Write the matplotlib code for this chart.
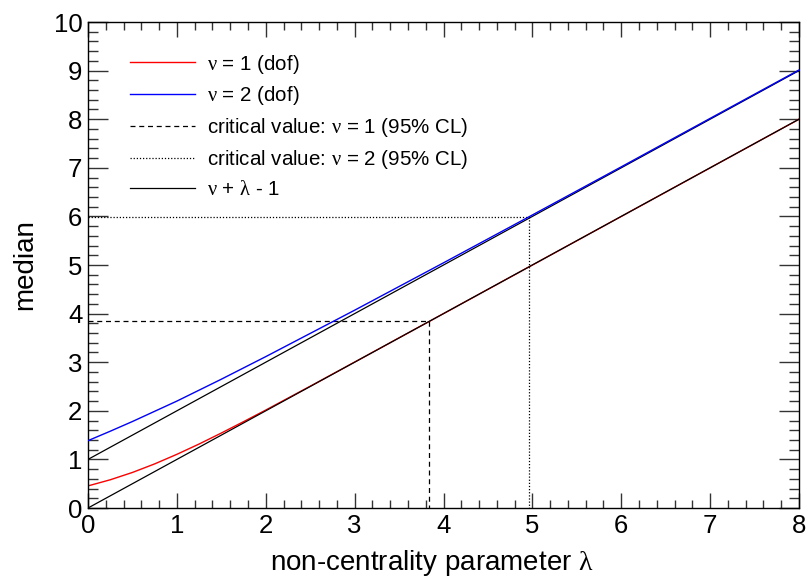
import matplotlib
matplotlib.use('Agg')
import matplotlib.pyplot as plt
from matplotlib.ticker import MultipleLocator

plt.rcParams['font.family'] = ['Liberation Sans', 'DejaVu Sans']
plt.rcParams['mathtext.fontset'] = 'custom'
plt.rcParams['mathtext.rm'] = 'Liberation Serif'
plt.rcParams['mathtext.it'] = 'Liberation Serif'

# median of the non-central chi2
lam_1 = [0, 0.25, 0.5, 0.75, 1.0, 1.25, 1.5, 1.75, 2.0, 2.5, 3.0, 4.0, 5.0, 6.0, 7.0, 8.0]
med_1 = [0.455, 0.581, 0.732, 0.908, 1.105, 1.317, 1.543, 1.777, 2.016, 2.506, 3.003, 4.0, 5.0, 6.0, 7.0, 8.0]
lam_2 = [0, 0.25, 0.5, 0.75, 1.0, 1.5, 2.0, 3.0, 4.0, 5.0, 6.0, 7.0, 8.0]
med_2 = [1.386, 1.58, 1.78, 1.99, 2.20, 2.65, 3.115, 4.07, 5.045, 6.03, 7.02, 8.017, 9.013]

# nu + lambda - 1
lam_line = [0, 8]
line_1 = [0, 8]
line_2 = [1, 9]

# 95% CL critical values and where the median reaches them
crit_1, lam_crit_1 = 3.841, 3.84
crit_2, lam_crit_2 = 5.991, 4.965

fig = plt.figure(figsize=(8.06, 5.78), dpi=100)
ax = fig.add_axes([0.1092, 0.1211, 0.8821, 0.8408])

ax.plot(lam_1, med_1, color='red', lw=1.0, label=r'$\nu$ = 1 (dof)', zorder=2)
ax.plot(lam_2, med_2, color='blue', lw=1.0, label=r'$\nu$ = 2 (dof)', zorder=4)
ax.plot([0, lam_crit_1, lam_crit_1], [crit_1, crit_1, 0], color='black', lw=0.9,
        ls=(0, (4, 3)), label=r'critical value: $\nu$ = 1 (95% CL)')
ax.plot([0, lam_crit_2, lam_crit_2], [crit_2, crit_2, 0], color='black', lw=0.9,
        ls=(0, (1, 1.5)), label=r'critical value: $\nu$ = 2 (95% CL)')
ax.plot(lam_line, line_1, color='black', lw=0.9, label=r'$\nu$ + $\lambda$ - 1', zorder=3)
ax.plot(lam_line, line_2, color='black', lw=0.9, zorder=3)

ax.set_xlim(0, 8)
ax.set_ylim(0, 10)
ax.xaxis.set_major_locator(MultipleLocator(1))
ax.xaxis.set_minor_locator(MultipleLocator(0.2))
ax.yaxis.set_major_locator(MultipleLocator(1))
ax.yaxis.set_minor_locator(MultipleLocator(0.2))

# ROOT style ticks: inside, all four sides
ax.tick_params(axis='both', which='both', direction='in', top=True, right=True,
               labelsize=18.5, width=1.0, color='#333333')
ax.tick_params(axis='x', which='major', length=10.8, pad=4)
ax.tick_params(axis='x', which='minor', length=5.6)
ax.tick_params(axis='y', which='major', length=14.4, pad=4)
ax.tick_params(axis='y', which='minor', length=7.2)
for s in ax.spines.values():
    s.set_linewidth(1.0)

ax.set_xlabel(r'non-centrality parameter $\lambda$', fontsize=20)
ax.set_ylabel('median', fontsize=20)
ax.xaxis.set_label_coords(0.484, -0.082)
ax.yaxis.set_label_coords(-0.07, 0.5)

ax.legend(loc='upper left', bbox_to_anchor=(0.059, 0.937), frameon=False, fontsize=14.8,
          handlelength=3.15, handletextpad=0.62, labelspacing=0.43, borderpad=0,
          borderaxespad=0)

fig.savefig('out.png', dpi=100)
